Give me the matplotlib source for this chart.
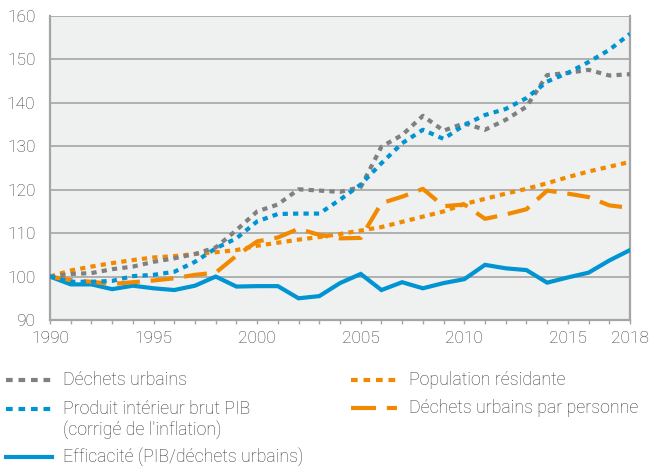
import matplotlib
matplotlib.use("Agg")
import matplotlib.pyplot as plt
from matplotlib.lines import Line2D
from matplotlib.ticker import MultipleLocator
from matplotlib import font_manager as fm

plt.rcParams['font.family'] = ['Roboto', 'DejaVu Sans']
plt.rcParams['font.weight'] = 'light'

years = list(range(1990, 2019))
dechets = [100, 100.6, 100.8, 101.7, 102.3, 103.4, 104.2, 105.2, 106.7, 110.7,
           115.0, 116.6, 120.1, 119.8, 119.5, 120.6, 129.9, 132.6, 137.0, 133.6,
           135.3, 133.8, 136.1, 139.1, 146.4, 146.9, 147.6, 146.3, 146.6]
pib = [100, 98.8, 98.8, 99.0, 100.1, 100.4, 101.1, 103.4, 106.5, 108.8,
       112.7, 114.4, 114.5, 114.5, 117.7, 121.2, 126.1, 130.7, 133.8, 131.7,
       134.9, 137.2, 138.6, 141.1, 144.9, 146.9, 149.4, 152.2, 155.9]
population = [100, 101.4, 102.3, 103.1, 103.8, 104.4, 104.7, 105.2, 105.6, 106.1,
              107.1, 107.8, 108.5, 109.1, 109.8, 110.6, 111.4, 112.6, 113.8, 115.0,
              116.7, 117.9, 119.1, 120.2, 121.5, 122.9, 124.2, 125.3, 126.4]
par_personne = [100, 99.2, 98.8, 98.3, 98.7, 99.1, 99.6, 100.4, 100.9, 104.8,
                108.1, 109.0, 111.0, 109.6, 108.8, 108.9, 116.9, 118.4, 120.2, 116.2,
                116.6, 113.3, 114.3, 115.5, 119.8, 119.1, 118.3, 116.4, 115.8]
efficacite = [100, 98.2, 98.2, 97.1, 97.9, 97.3, 96.9, 97.9, 100.0, 97.7,
              97.8, 97.8, 95.0, 95.5, 98.5, 100.6, 96.9, 98.7, 97.3, 98.5,
              99.4, 102.7, 101.9, 101.5, 98.6, 99.8, 100.9, 103.7, 106.1]

xticks = [1990, 1995, 2000, 2005, 2010, 2015, 2018]
yticks = [90, 100, 110, 120, 130, 140, 150, 160]

labels = ["Déchets urbains", "Produit intérieur brut PIB\n(corrigé de l'inflation)",
          "Efficacité (PIB/déchets urbains)", "Population résidante",
          "Déchets urbains par personne"]

GRAY = "#808080"
BLUE = "#0094D2"
ORANGE = "#F18A00"
TXT = "#3a3a3a"
W, H = 649, 466

fig = plt.figure(figsize=(W / 100, H / 100), dpi=100)
ax = fig.add_axes([50 / W, 1 - 320 / H, 580 / W, 304 / H])
ax.set_facecolor("#EFF0F0")

lw = 3.0
dot = (0, (1.25, 1.25))
dash = (0, (5.5, 2.6))
ax.plot(years, efficacite, color=BLUE, lw=lw, solid_joinstyle='miter', zorder=3)
ax.plot(years, population, color=ORANGE, lw=lw, ls=dot, dash_capstyle='butt', zorder=3)
ax.plot(years, par_personne, color=ORANGE, lw=lw, ls=dash, dash_capstyle='butt', zorder=3)
ax.plot(years, dechets, color=GRAY, lw=lw, ls=dot, dash_capstyle='butt', zorder=3)
ax.plot(years, pib, color=BLUE, lw=lw, ls=dot, dash_capstyle='butt', zorder=3)

ax.set_xlim(1990, 2018)
ax.set_ylim(90, 160)
ax.set_yticks(yticks)
ax.set_xticks(xticks)
ax.set_xticklabels([str(x) for x in xticks])
ax.xaxis.set_minor_locator(MultipleLocator(1))
ax.grid(axis='y', color="#ABABAB", lw=1.3, zorder=1)
ax.set_axisbelow(True)
for s in ['left', 'bottom', 'right']:
    ax.spines[s].set_color("#A5A5A5")
    ax.spines[s].set_linewidth(1.6)
ax.spines['top'].set_visible(False)
tfs = 12.5
ax.tick_params(axis='y', length=0, pad=10.5, labelsize=tfs, labelcolor=TXT)
ax.tick_params(axis='x', which='both', length=3, color="#A5A5A5", width=1,
               pad=5, labelsize=tfs, labelcolor=TXT)

def fx(px):
    return px / W

def fy(py):
    return 1 - py / H

def handle(x0, x1, y, color, ls):
    fig.add_artist(Line2D([fx(x0), fx(x1)], [fy(y), fy(y)], transform=fig.transFigure,
                          color=color, lw=lw, ls=ls, dash_capstyle='butt'))

fs = 12.8
hdot = (0, (1.6, 1.4))
handle(6, 52, 380, GRAY, hdot)
fig.text(fx(63), fy(380), labels[0], fontsize=fs, color=TXT, va='center', ha='left')
handle(6, 52, 409, BLUE, hdot)
fig.text(fx(63), fy(409), labels[1].split("\n")[0], fontsize=fs, color=TXT, va='center', ha='left')
fig.text(fx(63), fy(430), labels[1].split("\n")[1], fontsize=fs, color=TXT, va='center', ha='left')
handle(6, 52, 457, BLUE, '-')
fig.text(fx(63), fy(457), labels[2], fontsize=fs, color=TXT, va='center', ha='left')
handle(351, 397, 380, ORANGE, hdot)
fig.text(fx(409), fy(380), labels[3], fontsize=fs, color=TXT, va='center', ha='left')
handle(351, 397, 408, ORANGE, (0, (6.0, 2.6)))
fig.text(fx(409), fy(408), labels[4], fontsize=fs, color=TXT, va='center', ha='left')

fig.savefig("out.png", dpi=100)
